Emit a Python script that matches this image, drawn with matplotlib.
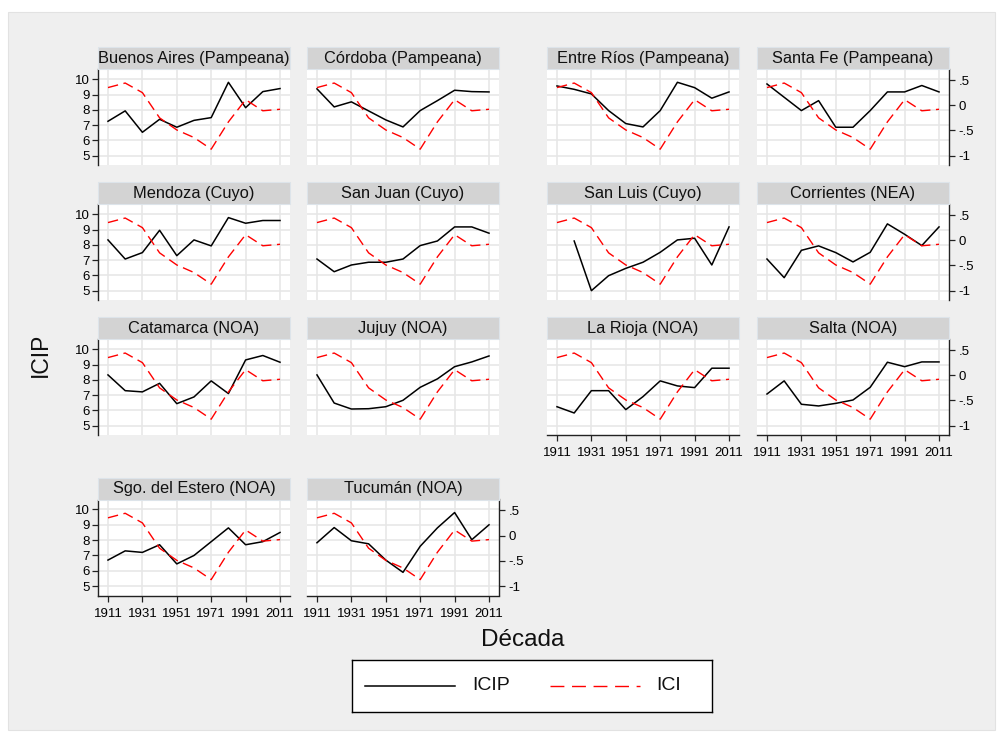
import numpy as np
import matplotlib
matplotlib.use("Agg")
import matplotlib.pyplot as plt
from matplotlib.patches import Rectangle
from matplotlib.lines import Line2D

plt.rcParams['font.family'] = ['Liberation Sans', 'DejaVu Sans']

# ---- data -------------------------------------------------------------
years = [1911, 1921, 1931, 1941, 1951, 1961, 1971, 1981, 1991, 2001, 2011]
ici = [0.35, 0.44, 0.25, -0.25, -0.49, -0.64, -0.87, -0.33, 0.11, -0.11, -0.08]

buenos_aires = [7.25, 7.93, 6.53, 7.38, 6.86, 7.31, 7.49, 9.80, 8.14, 9.19, 9.39]
cordoba      = [9.37, 8.19, 8.52, 7.93, 7.34, 6.88, 7.95, 8.60, 9.28, 9.19, 9.17]
entre_rios   = [9.56, 9.34, 9.04, 7.95, 7.10, 6.88, 7.95, 9.80, 9.45, 8.76, 9.17]
santa_fe     = [9.69, 8.82, 7.95, 8.60, 6.86, 6.86, 7.95, 9.17, 9.17, 9.59, 9.17]
mendoza      = [8.32, 7.07, 7.49, 8.95, 7.29, 8.32, 7.93, 9.78, 9.41, 9.59, 9.59]
san_juan     = [7.07, 6.24, 6.68, 6.86, 6.86, 7.07, 7.95, 8.25, 9.17, 9.17, 8.76]
san_luis     = [np.nan, 8.25, 5.00, 5.98, 6.46, 6.86, 7.51, 8.32, 8.43, 6.68, 9.17]
corrientes   = [7.07, 5.85, 7.64, 7.93, 7.49, 6.88, 7.51, 9.37, 8.69, 7.95, 9.17]
catamarca    = [8.32, 7.29, 7.21, 7.77, 6.44, 6.88, 7.93, 7.10, 9.30, 9.59, 9.15]
jujuy        = [8.32, 6.48, 6.09, 6.11, 6.24, 6.66, 7.51, 8.06, 8.86, 9.17, 9.56]
la_rioja     = [6.24, 5.83, 7.29, 7.29, 6.05, 6.90, 7.93, 7.60, 7.49, 8.76, 8.76]
salta        = [7.07, 7.93, 6.40, 6.29, 6.46, 6.68, 7.51, 9.15, 8.86, 9.17, 9.17]
sgo_estero   = [6.70, 7.30, 7.20, 7.70, 6.45, 7.00, 7.90, 8.80, 7.70, 7.90, 8.50]
tucuman      = [7.83, 8.82, 7.96, 7.76, 6.70, 5.90, 7.60, 8.80, 9.80, 8.03, 9.00]

icip_ticks = [5, 6, 7, 8, 9, 10]
ici_ticks = [0.5, 0, -0.5, -1]
ici_labels = ['.5', '0', '-.5', '-1']
year_ticks = [1911, 1931, 1951, 1971, 1991, 2011]

# ---- figure -----------------------------------------------------------
W, H = 1000, 734
fig = plt.figure(figsize=(W / 100, H / 100), dpi=100)
fig.patch.set_facecolor('white')
fig.patches.append(Rectangle((8 / W, 1 - 730 / H), 987 / W, 718 / H,
                             transform=fig.transFigure, facecolor='#efefef',
                             edgecolor='#e2e2e2', lw=0.8, zorder=-5))


def frect(l, t, r, b):
    return [l / W, 1 - b / H, (r - l) / W, (b - t) / H]


cols = {'L1': (98, 290), 'L2': (307, 499), 'R1': (547, 739), 'R2': (757, 949)}
rows = {1: (69.3, 165), 2: (204.3, 300), 3: (339.3, 435), 4: (499.5, 595.5)}

panels = [
    ('Buenos Aires (Pampeana)', buenos_aires, 'L1', 1, True, False, False),
    ('Córdoba (Pampeana)', cordoba, 'L2', 1, False, False, False),
    ('Entre Ríos (Pampeana)', entre_rios, 'R1', 1, False, False, False),
    ('Santa Fe (Pampeana)', santa_fe, 'R2', 1, False, True, False),
    ('Mendoza (Cuyo)', mendoza, 'L1', 2, True, False, False),
    ('San Juan (Cuyo)', san_juan, 'L2', 2, False, False, False),
    ('San Luis (Cuyo)', san_luis, 'R1', 2, False, False, False),
    ('Corrientes (NEA)', corrientes, 'R2', 2, False, True, False),
    ('Catamarca (NOA)', catamarca, 'L1', 3, True, False, False),
    ('Jujuy (NOA)', jujuy, 'L2', 3, False, False, False),
    ('La Rioja (NOA)', la_rioja, 'R1', 3, False, False, True),
    ('Salta (NOA)', salta, 'R2', 3, False, True, True),
    ('Sgo. del Estero (NOA)', sgo_estero, 'L1', 4, True, False, True),
    ('Tucumán (NOA)', tucuman, 'L2', 4, False, True, True),
]

grid_c = '#e6e6e6'
tick_fs = 9.5
dash = (0, (7.5, 4.0))

for title, vals, c, r, show_left, show_right, show_x in panels:
    l, rr = cols[c]
    t, b = rows[r]
    ax = fig.add_axes(frect(l, t, rr, b))
    ax2 = ax.twinx()

    ax.set_facecolor('white')
    ax.set_xlim(1905.2, 2016.8)
    ax.set_ylim(4.39, 10.65)
    ax.set_xticks(year_ticks)
    ax.set_yticks(icip_ticks)
    ax.grid(True, color=grid_c, lw=1.1)
    ax.set_axisbelow(True)
    for s in ax.spines.values():
        s.set_visible(False)
    ax.spines['left'].set_visible(show_left)
    ax.spines['bottom'].set_visible(show_x)
    for s in ('left', 'bottom'):
        ax.spines[s].set_color('#222222')
        ax.spines[s].set_linewidth(1.0)
    ax.tick_params(axis='y', left=show_left, labelleft=show_left,
                   right=False, labelright=False,
                   length=4, width=0.9, pad=2, labelsize=tick_fs, color='#222222')
    ax.tick_params(axis='x', bottom=show_x, labelbottom=show_x,
                   top=False, labeltop=False,
                   length=4, width=0.9, pad=5, labelsize=tick_fs, color='#222222')
    ax.plot(years, vals, color='black', lw=1.1, zorder=3)

    ax2.set_ylim(-1.184, 0.712)
    for s in ax2.spines.values():
        s.set_visible(False)
    ax2.spines['right'].set_visible(show_right)
    ax2.spines['right'].set_color('#222222')
    ax2.spines['right'].set_linewidth(1.0)
    ax2.set_yticks(ici_ticks)
    ax2.set_yticklabels(ici_labels)
    ax2.tick_params(axis='y', right=show_right, labelright=show_right,
                    left=False, labelleft=False,
                    length=4, width=0.9, pad=3, labelsize=tick_fs, color='#222222')
    ax2.plot(years, ici, color='red', lw=1.0, linestyle=dash, zorder=2)

    # title strip above each panel
    strip_top = t - 22
    fig.patches.append(Rectangle((l / W, 1 - t / H), (rr - l) / W, 22 / H,
                                 transform=fig.transFigure, facecolor='#d3d3d3',
                                 edgecolor='#dde4ea', lw=0.8, zorder=1))
    fig.text((l + rr) / 2 / W, 1 - (strip_top + 11.5) / H, title,
             ha='center', va='center', fontsize=11.8, color='#111111')

# axis titles
fig.text(40 / W, 1 - 355 / H, 'ICIP', rotation=90, ha='center', va='center',
         fontsize=16.5, color='#111111')
fig.text(523 / W, 1 - 640 / H, 'Década', ha='center', va='center',
         fontsize=17.5, color='#111111')

# legend box
lax = fig.add_axes(frect(352, 660, 712, 712))
lax.set_xlim(352, 712)
lax.set_ylim(712, 660)
lax.set_xticks([])
lax.set_yticks([])
lax.set_facecolor('white')
for s in lax.spines.values():
    s.set_color('black')
    s.set_linewidth(1.0)
lax.add_line(Line2D([365, 455], [686, 686], color='black', lw=1.1))
lax.text(472, 686, 'ICIP', ha='left', va='center', fontsize=14, color='#111111')
lax.add_line(Line2D([550, 640], [686, 686], color='red', lw=1.0,
                    linestyle=(0, (10, 5.5))))
lax.text(656, 686, 'ICI', ha='left', va='center', fontsize=14, color='#111111')

fig.savefig('out.png', dpi=100, facecolor=fig.get_facecolor())
